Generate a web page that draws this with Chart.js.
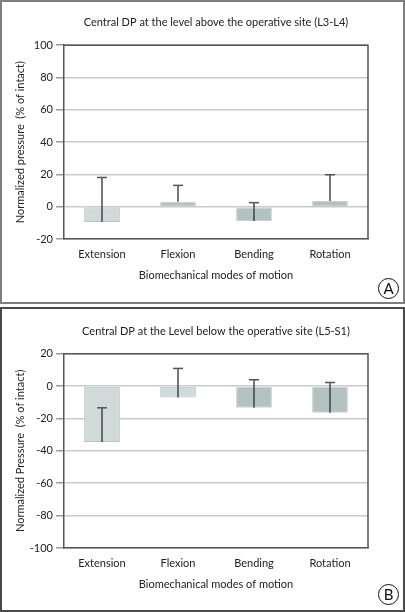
<!DOCTYPE html>
<html>
<head>
<meta charset="utf-8">
<script src="https://cdn.jsdelivr.net/npm/chart.js@4.4.0/dist/chart.umd.min.js"></script>
<style>
  html, body { margin: 0; padding: 0; background: #fff; }
  body { width: 405px; height: 612px; position: relative; overflow: hidden; font-family: Lato, sans-serif; }
  .frame { position: absolute; box-sizing: border-box; pointer-events: none; }
  #frameA { left: 0; top: 0; width: 405px; height: 304px; border: 2px solid #7d7d7d; }
  #frameB { left: 0; top: 307px; width: 405px; height: 305px; border: 2px solid #4a4a4a; }
  .holder { position: absolute; left: 0; width: 405px; }
  #holderA { top: 0; height: 303px; }
  #holderB { top: 307px; height: 305px; }
  .tag { position: absolute; width: 19px; height: 19px; border: 1.5px solid #111; border-radius: 50%;
         font: 15px Lato, sans-serif; line-height: 19px; text-align: center; color: #111; }
</style>
</head>
<body>
<div class="holder" id="holderA"><canvas id="chartA" width="405" height="303"></canvas></div>
<div class="holder" id="holderB"><canvas id="chartB" width="405" height="305"></canvas></div>
<div class="frame" id="frameA"></div>
<div class="frame" id="frameB"></div>
<div class="tag" style="left:378px;top:278px;">A</div>
<div class="tag" style="left:378px;top:584px;">B</div>
<script>
// categories and values
const categories = ['Extension', 'Flexion', 'Bending', 'Rotation'];

const meanAbove = [-9.5, 3.1, -8.9, 3.5];
const sdAbove = [27.6, 10.1, 11.4, 16.3];
const ticksAbove = [-20, 0, 20, 40, 60, 80, 100];

const meanBelow = [-34.6, -7.0, -13.4, -16.5];
const sdBelow = [21.2, 17.9, 17.3, 18.7];
const ticksBelow = [-100, -80, -60, -40, -20, 0, 20];

const LIGHT = '#d0dad9', LIGHT_EDGE = '#b9c5c4';
const DARK = '#b3c2c0', DARK_EDGE = '#c6d0cf';

// upper whisker from bar end to mean + sd, with a small cap
const errorBars = {
  id: 'errorBars',
  afterDatasetsDraw(chart, args, opts) {
    const ctx = chart.ctx;
    const x = chart.scales.x, y = chart.scales.y;
    ctx.save();
    opts.means.forEach((m, i) => {
      const px = x.getPixelForValue(i);
      const y0 = y.getPixelForValue(m);
      const y1 = y.getPixelForValue(m + opts.sds[i]);
      ctx.strokeStyle = '#2f2f2f';
      ctx.lineWidth = 1.3;
      ctx.beginPath();
      ctx.moveTo(px, y0);
      ctx.lineTo(px, y1);
      ctx.stroke();
      ctx.strokeStyle = '#555';
      ctx.lineWidth = 1.5;
      ctx.beginPath();
      ctx.moveTo(px - 5, y1);
      ctx.lineTo(px + 5, y1);
      ctx.stroke();
    });
    ctx.restore();
  }
};

// top and right sides of the plot frame
const plotFrame = {
  id: 'plotFrame',
  afterDraw(chart) {
    const {ctx, chartArea: a} = chart;
    ctx.save();
    ctx.strokeStyle = '#555';
    ctx.lineWidth = 1.5;
    ctx.beginPath();
    ctx.moveTo(a.left, a.top);
    ctx.lineTo(a.right, a.top);
    ctx.lineTo(a.right, a.bottom);
    ctx.stroke();
    ctx.restore();
  }
};

function makeChart(id, title, yTitle, means, sds, ticks, colors, edges, titlePad) {
  return new Chart(document.getElementById(id), {
    type: 'bar',
    data: {
      labels: categories,
      datasets: [{
        data: means,
        backgroundColor: colors,
        borderColor: edges,
        borderWidth: 1,
        borderSkipped: false,
        barPercentage: 0.47,
        categoryPercentage: 1
      }]
    },
    options: {
      responsive: false,
      animation: false,
      events: [],
      layout: { padding: { left: 0, right: 37, top: 0, bottom: 0 } },
      plugins: {
        legend: { display: false },
        tooltip: { enabled: false },
        title: {
          display: true, text: title, color: '#222', fullSize: false,
          font: { family: 'Lato', size: 11, weight: 'normal' },
          padding: titlePad
        },
        errorBars: { means: means, sds: sds }
      },
      scales: {
        x: {
          afterFit(s) { s.height = 64; },
          grid: { display: false, drawTicks: false },
          border: { display: true, color: '#555', width: 1.5 },
          ticks: { color: '#222', padding: 9, font: { family: 'Lato', size: 11 } },
          title: {
            display: true, text: 'Biomechanical modes of motion', color: '#222',
            font: { family: 'Lato', size: 11 }, padding: { top: 0, bottom: 21 }
          }
        },
        y: {
          min: ticks[0], max: ticks[ticks.length - 1],
          afterFit(s) { s.width = 64; },
          afterBuildTicks(s) { s.ticks = ticks.map(v => ({ value: v })); },
          grid: { color: '#c5cdcc', lineWidth: 1.5, tickColor: '#9a9a9a', tickLength: 8 },
          border: { display: true, color: '#555', width: 1.5 },
          ticks: { color: '#222', padding: 3, font: { family: 'Lato', size: 11 } },
          title: {
            display: true, text: yTitle, color: '#222',
            font: { family: 'Lato', size: 11 }, padding: { top: 14, bottom: 0 }
          }
        }
      }
    },
    plugins: [errorBars, plotFrame]
  });
}

makeChart('chartA', 'Central DP at the level above the operative site (L3-L4)',
  'Normalized pressure  (% of intact)', meanAbove, sdAbove, ticksAbove,
  [LIGHT, DARK, DARK, DARK], [LIGHT_EDGE, DARK_EDGE, DARK_EDGE, DARK_EDGE],
  { top: 16, bottom: 16 });

makeChart('chartB', 'Central DP at the Level below the operative site (L5-S1)',
  'Normalized Pressure  (% of intact)', meanBelow, sdBelow, ticksBelow,
  [LIGHT, LIGHT, DARK, DARK], [LIGHT_EDGE, LIGHT_EDGE, DARK_EDGE, DARK_EDGE],
  { top: 18, bottom: 15.5 });
</script>
</body>
</html>
